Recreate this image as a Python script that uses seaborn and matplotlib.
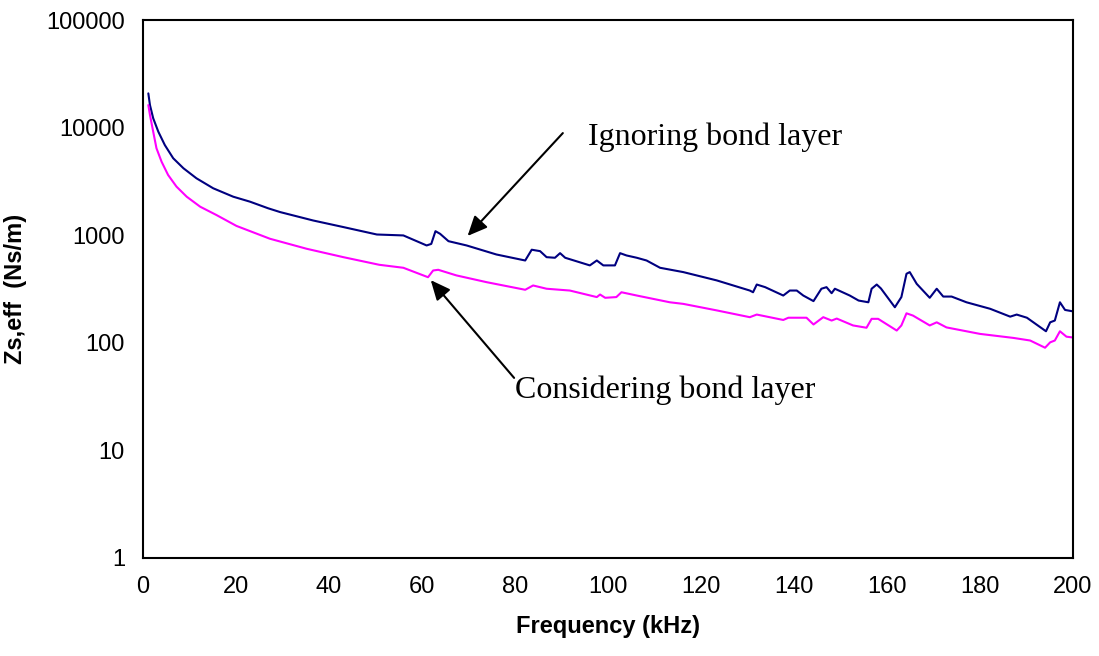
import matplotlib
matplotlib.use("Agg")
import matplotlib.pyplot as plt
import seaborn as sns
import pandas as pd

# Ignoring bond layer (blue)
freq_ignore = [1.15, 1.5, 2.2, 3.3, 4.7, 6.5, 8.7, 11.5, 15.1, 19.4, 23, 26.9, 29.5, 36.6, 43.1,
               50.3, 56, 61, 62, 62.9, 63.9, 65.7, 69.6, 76, 82.2, 83.6, 85.4, 86.8, 88.6, 89.7,
               90.8, 96.1, 97.6, 99, 101.5, 102.6, 104, 106.2, 108.3, 111.2, 116.2, 123.4, 130.5,
               131.2, 132, 133.8, 137.7, 139.1, 140.6, 142, 144.2, 145.9, 147, 148.1, 148.8, 152,
               153.9, 156, 156.7, 157.8, 158.7, 161.7, 163.1, 164.2, 164.9, 166.4, 169.2, 170.7,
               172.1, 173.9, 177.1, 182.2, 186.5, 187.9, 190.1, 194.2, 195.1, 196.1, 197.2, 198.3,
               200]
z_ignore = [20800, 16200, 12200, 9160, 6880, 5190, 4190, 3380, 2730, 2280, 2050, 1780, 1640, 1370,
            1190, 1015, 995, 803, 830, 1090, 1030, 880, 803, 662, 582, 733, 711, 625, 617, 681,
            617, 524, 582, 524, 524, 681, 648, 617, 582, 498, 454, 380, 306,
            295, 348, 329, 275, 306, 306, 275, 244, 318, 329, 289, 318, 275,
            247, 238, 318, 348, 320, 214, 266, 438, 454, 353, 262, 318,
            269, 269, 238, 207, 175, 183, 171, 128, 155, 161, 238, 202,
            196]

# Considering bond layer (magenta)
freq_consider = [1.15, 1.5, 2.2, 2.9, 4.0, 5.4, 7.2, 9.4, 12.3, 15.8, 20.1, 27.3, 35.2, 43.1, 50.8,
                 56, 61.3, 62.4, 63.5, 67.4, 73.9, 82.2, 83.9, 86.8, 91.8, 97.6, 98.3, 99.4, 101.8,
                 102.9, 106.2, 113.3, 116.2, 123.4, 130.5, 132, 137.7, 138.8, 142.7, 144.2, 146.3,
                 148.1, 149.2, 152.7, 155.6, 156.7, 158.1, 162.1, 163.1, 164.2, 165.6, 169.2, 170.7,
                 172.8, 180, 187.2, 190.8, 194, 195.1, 196.1, 197.2, 198.6, 200]
z_consider = [16200, 13100, 9160, 6430, 4820, 3630, 2830, 2280, 1840, 1540, 1220, 927, 748, 625, 531,
              498, 407, 470, 477, 423, 366, 311, 341, 318, 306, 266, 281, 262, 266,
              295, 275, 238, 230, 200, 173, 183, 163, 171, 171, 148, 173,
              161, 168, 145, 138, 167, 167, 130, 145, 188, 179, 145, 155,
              139, 121, 111, 105, 90, 101, 105, 128, 114, 112]

x_ticks = [0, 20, 40, 60, 80, 100, 120, 140, 160, 180, 200]
y_ticks = [1, 10, 100, 1000, 10000, 100000]
y_tick_labels = ["1", "10", "100", "1000", "10000", "100000"]

sns.set_theme(style="white")
plt.rcParams['font.family'] = ['Liberation Sans', 'DejaVu Sans']
plt.rcParams['text.color'] = 'black'
plt.rcParams['axes.labelcolor'] = 'black'

fig = plt.figure(figsize=(10.99, 6.56), dpi=100)
ax = fig.add_axes([0.1301, 0.1494, 0.8462, 0.8201])

df1 = pd.DataFrame({"f": freq_ignore, "z": z_ignore})
df2 = pd.DataFrame({"f": freq_consider, "z": z_consider})
sns.lineplot(data=df1, x="f", y="z", ax=ax, color="#000080", linewidth=1.5, estimator=None, sort=False)
sns.lineplot(data=df2, x="f", y="z", ax=ax, color="#FF00FF", linewidth=1.5, estimator=None, sort=False)

ax.set_yscale("log")
ax.set_xlim(0, 200)
ax.set_ylim(1, 100000)
ax.set_xticks(x_ticks)
ax.set_xticklabels([str(t) for t in x_ticks])
ax.set_yticks(y_ticks)
ax.set_yticklabels(y_tick_labels)
ax.minorticks_off()
ax.tick_params(axis="both", which="major", direction="out", length=7, width=1.2,
               colors="black", labelsize=17, pad=6)
ax.tick_params(axis="y", which="minor", left=False)
for s in ax.spines.values():
    s.set_color("black")
    s.set_linewidth(1.5)

ax.set_xlabel("Frequency (kHz)", fontsize=17, fontweight="bold", labelpad=12, color="black")
ax.set_ylabel("Zs,eff  (Ns/m)", fontsize=17, fontweight="bold", labelpad=14, color="black")

ax.annotate("", xy=(69.4, 942), xytext=(90.7, 9290),
            arrowprops=dict(arrowstyle="-|>,head_length=1.0,head_width=0.45", color="black", lw=1.5))
ax.annotate("", xy=(61.5, 400), xytext=(80.2, 45.1),
            arrowprops=dict(arrowstyle="-|>,head_length=1.0,head_width=0.45", color="black", lw=1.5))
ax.text(95.7, 6890, "Ignoring bond layer", fontsize=23, va="baseline", ha="left", color="black",
        family=["Liberation Serif", "DejaVu Serif"])
ax.text(80.0, 30.7, "Considering bond layer", fontsize=23, va="baseline", ha="left", color="black",
        family=["Liberation Serif", "DejaVu Serif"])

fig.savefig("out.png", dpi=100)
